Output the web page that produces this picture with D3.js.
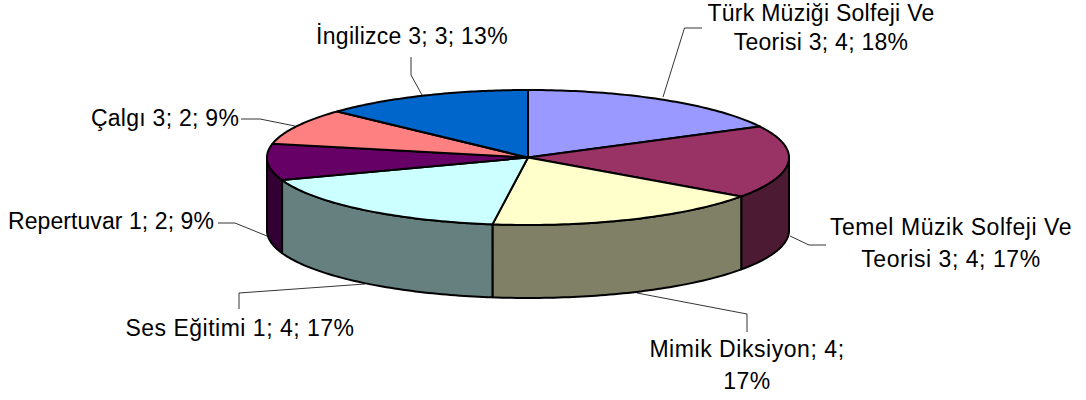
<!DOCTYPE html>
<html>
<head>
<meta charset="utf-8">
<script src="https://cdn.jsdelivr.net/npm/d3@7"></script>
<style>
html,body{margin:0;padding:0;background:#fff;}
svg{display:block;}
text{font-family:"Liberation Sans",Arial,sans-serif;font-size:23px;fill:#000;}
</style>
</head>
<body>
<svg id="chart" width="1086" height="400"></svg>
<script>
// Data, clockwise from 12 o'clock
const categories = ["Türk Müziği Solfeji Ve Teorisi 3", "Temel Müzik Solfeji Ve Teorisi 3", "Mimik Diksiyon", "Ses Eğitimi 1", "Repertuvar 1", "Çalgı 3", "İngilizce 3"];
const values = [4, 4, 4, 4, 2, 2, 3];
const percents = [18, 17, 17, 17, 9, 9, 13];
const labelSplits = [23, 23, 19, 99, 99, 99, 99];

// Styles
const topColors = ["#9999FF", "#993366", "#FFFFCC", "#CCFFFF", "#660066", "#FF8080", "#0066CC"];
const sideColors = ["#4D4D80", "#4D1A33", "#808066", "#668080", "#330033", "#804040", "#003366"];
const labelSpacing = [0.27, 0.55, 0.55, 0.5, 0.07, 0.27, 0.27];

// Layout
const labelX = [821, 951, 747, 240, 111, 165, 412];
const labelY = [21, 235, 357, 336, 229, 126, 44];
const lineGaps = [29, 32, 32, 32, 32, 32, 32];
const leaders = [
  [[663,97],[684.5,28],[702,28]],
  [[790,236],[809,245],[826,245]],
  [[637,293],[747,314],[747,332]],
  [[365,284],[239,293],[239,309]],
  [[267,236],[235,223],[218,223]],
  [[295,126],[260,119],[241,119]],
  [[422,95],[411,75],[411,57]]
];
const cx = 528, cy = 157.5, rx = 261, ry = 67.5, depth = 73;

const svg = d3.select("#chart");
const x = d3.scaleLinear().domain([-1, 1]).range([cx - rx, cx + rx]);
const y = d3.scaleLinear().domain([-1, 1]).range([cy - ry, cy + ry]);

const pie = d3.pie().sort(null)(values);
const line = d3.line();
const pt = (a, dz = 0) => [x(Math.sin(a)), y(-Math.cos(a)) + dz];
const arcPts = (a0, a1, dz = 0) => d3.range(0, 61).map(i => pt(a0 + (a1 - a0) * i / 60, dz));

// Side walls (only the front half of the rim is visible)
const sides = svg.append("g");
pie.forEach((d, i) => {
  const a0 = Math.max(d.startAngle, Math.PI / 2);
  const a1 = Math.min(d.endAngle, 3 * Math.PI / 2);
  if (a1 <= a0) return;
  const pts = arcPts(a0, a1).concat(arcPts(a0, a1, depth).reverse());
  sides.append("path")
    .attr("d", line(pts) + "Z")
    .attr("fill", sideColors[i])
    .attr("stroke", "#000")
    .attr("stroke-width", 2)
    .attr("stroke-linejoin", "round");
});

// Top faces
const tops = svg.append("g");
pie.forEach((d, i) => {
  const pts = [[x(0), y(0)]].concat(arcPts(d.startAngle, d.endAngle));
  tops.append("path")
    .attr("d", line(pts) + "Z")
    .attr("fill", topColors[i])
    .attr("stroke", "#000")
    .attr("stroke-width", 2)
    .attr("stroke-linejoin", "round");
});

// Leader lines
svg.append("g").selectAll("path").data(leaders).join("path")
  .attr("d", d => line(d))
  .attr("fill", "none")
  .attr("stroke", "#000")
  .attr("stroke-width", 0.8);

// Labels
categories.forEach((c, i) => {
  const full = `${c}; ${values[i]}; ${percents[i]}%`;
  const parts = labelSplits[i] < full.length
    ? [full.slice(0, labelSplits[i]).trim(), full.slice(labelSplits[i]).trim()]
    : [full];
  const t = svg.append("text").attr("text-anchor", "middle").style("letter-spacing", labelSpacing[i] + "px");
  parts.forEach((p, k) => {
    t.append("tspan").attr("x", labelX[i]).attr("y", labelY[i] + k * lineGaps[i]).text(p);
  });
});
</script>
</body>
</html>
